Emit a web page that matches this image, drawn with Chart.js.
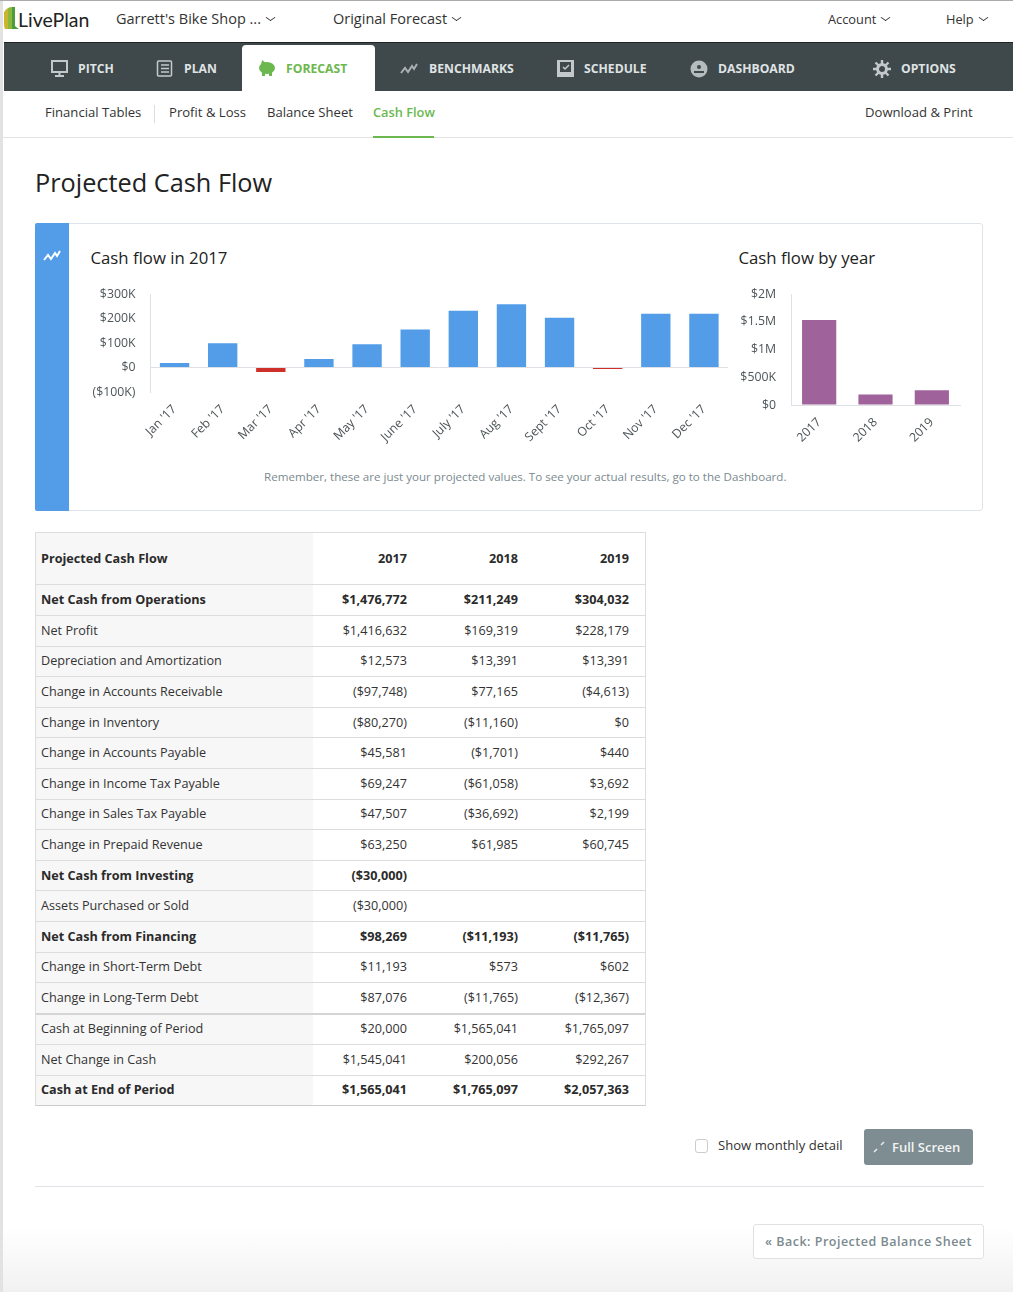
<!DOCTYPE html>
<html>
<head>
<meta charset="utf-8">
<title>Projected Cash Flow</title>
<script src="https://cdn.jsdelivr.net/npm/chart.js@4/dist/chart.umd.min.js"></script>
<style>
html, body { margin: 0; padding: 0; }
body { width: 1013px; height: 1292px; position: relative; overflow: hidden; background: #fff; font-family: "Open Sans", sans-serif; color: #333; -webkit-font-smoothing: antialiased; }
.t { position: absolute; white-space: nowrap; line-height: 20px; }
.box { position: absolute; box-sizing: border-box; }
.nav { color: #dfe3e4; font-size: 12.2px; font-weight: 700; top: 58.5px; }
.sub { color: #333; font-size: 13.1px; top: 102px; }
.chev { display: inline-block; width: 6px; height: 6px; border-right: 1.4px solid #333; border-bottom: 1.4px solid #333; transform: scaleY(.7) rotate(45deg); margin: 0 0 3px 6px; }
svg { position: absolute; }
canvas { position: absolute; }
#table { position: absolute; left: 35px; top: 532px; width: 611px; border: 1px solid #ddd; border-bottom-color: #ccc; box-sizing: border-box; font-size: 12.65px; background: linear-gradient(to right, #f7f7f7 277px, #fff 277px); }
.row { position: relative; height: 30.6px; box-sizing: border-box; border-top: 1px solid #ddd; }
.row.head { height: 51.4px; border-top: 0; }
.row.gap { height: 31.3px; border-top: 2px solid #d5d5d5; }
.row span { position: absolute; top: 50%; margin-top: -1px; transform: translateY(-50%); white-space: nowrap; }
.row .lab { left: 5px; }
.row .c0, .row .c1, .row .c2 { text-align: right; width: 110px; }
.row .c0 { left: 261px; } .row .c1 { left: 372px; } .row .c2 { left: 483px; }
.row.b { font-weight: 700; color: #2b2b2b; }
</style>
</head>
<body>
<div class="box" style="left:0;top:1200px;width:1013px;height:92px;background:linear-gradient(to bottom,#fff 30%,#f1f1f1)"></div>
<div class="box" style="left:0;top:0;width:3px;height:1292px;background:#e2e2e2"></div>
<div class="box" style="left:0;top:0;width:1013px;height:1px;background:#aaa"></div>

<!-- logo and top bar -->
<svg style="left:4px;top:7px" width="16" height="23" viewBox="0 0 16 23">
  <path d="M0 5 Q2 2 4 1 V22 H1 Q0 20 0 16Z" fill="#c9b52f"/>
  <path d="M4 1 Q6 0 8 0 V22 H4Z" fill="#8ab83a"/>
  <path d="M8 0 H11 V19 Q13 21 15 22 H8Z" fill="#4d9b3a"/>
</svg>
<div class="t" style="left:18px;top:6px;font-size:19.5px;line-height:27px;color:#222;font-family:Lato,sans-serif">LivePlan</div>
<div class="t" style="left:116px;top:9px;font-size:14.5px">Garrett's Bike Shop ...<i class="chev"></i></div>
<div class="t" style="left:333px;top:9px;font-size:14.5px">Original Forecast<i class="chev"></i></div>
<div class="t" style="left:828px;top:9px;font-size:12.8px">Account<i class="chev"></i></div>
<div class="t" style="left:946px;top:9px;font-size:12.8px">Help<i class="chev"></i></div>

<!-- main nav -->
<div class="box" style="left:4px;top:42px;width:1009px;height:49px;background:#3f484b;border-top:1px solid #222"></div>
<div class="box" style="left:242px;top:45px;width:133px;height:46px;background:#fff;border-radius:4px 4px 0 0"></div>
<svg style="left:51px;top:60px" width="18" height="18" fill="none" stroke="#c3c9cb" stroke-width="2"><rect x="1" y="1" width="15" height="11"/><path d="M8.5 12v3M4 16h9"/></svg>
<div class="t nav" style="left:78px">PITCH</div>
<svg style="left:156px;top:60px" width="18" height="18" fill="none" stroke="#c3c9cb" stroke-width="1.5"><rect x="1.5" y="1" width="14" height="15" rx="1"/><path d="M5 5h8M5 8.5h8M5 12h8"/></svg>
<div class="t nav" style="left:184px">PLAN</div>
<svg style="left:258px;top:60px" width="18" height="17"><ellipse cx="9" cy="8" rx="8" ry="6" fill="#6cb84e"/><rect x="4" y="11" width="3" height="5" fill="#6cb84e"/><rect x="11" y="11" width="3" height="5" fill="#6cb84e"/><path d="M3 5 L4 0 L8 3Z" fill="#6cb84e"/></svg>
<div class="t nav" style="left:286px;color:#6cb84e">FORECAST</div>
<svg style="left:400px;top:60px" width="18" height="16" fill="none" stroke="#aab1b3" stroke-width="2"><path d="M1 13 L5 8 L8 12 L12 6 L14 9 L17 4"/></svg>
<div class="t nav" style="left:429px">BENCHMARKS</div>
<svg style="left:556px;top:59px" width="19" height="19"><rect x="1" y="1" width="17" height="17" fill="#c3c9cb"/><rect x="4" y="3" width="11" height="10" fill="#3f484b"/><path d="M7 8l2 2 4-4" fill="none" stroke="#c3c9cb" stroke-width="1.5"/></svg>
<div class="t nav" style="left:584px">SCHEDULE</div>
<svg style="left:690px;top:60px" width="18" height="18"><circle cx="9" cy="9" r="8.5" fill="#b5bcbe"/><path d="M4 12h10" stroke="#3f484b" stroke-width="2"/><circle cx="9" cy="7" r="2" fill="#3f484b"/></svg>
<div class="t nav" style="left:718px">DASHBOARD</div>
<svg style="left:873px;top:60px" width="18" height="18" fill="none" stroke="#c3c9cb"><circle cx="9" cy="9" r="4.5" stroke-width="3"/><path d="M9 0v4M9 14v4M0 9h4M14 9h4M2.5 2.5l3 3M12.5 12.5l3 3M15.5 2.5l-3 3M5.5 12.5l-3 3" stroke-width="2.4"/></svg>
<div class="t nav" style="left:901px">OPTIONS</div>

<!-- sub nav -->
<div class="t sub" style="left:45px">Financial Tables</div>
<div class="box" style="left:154px;top:105px;width:1px;height:18px;background:#ddd"></div>
<div class="t sub" style="left:169px">Profit &amp; Loss</div>
<div class="t sub" style="left:267px">Balance Sheet</div>
<div class="t sub" style="left:373px;color:#6cb84e;font-weight:600;font-size:12.8px">Cash Flow</div>
<div class="t sub" style="left:865px">Download &amp; Print</div>
<div class="box" style="left:3px;top:137px;width:1010px;height:1px;background:#e3e3e3"></div>
<div class="box" style="left:373px;top:136px;width:61px;height:2px;background:#6cb84e"></div>

<div class="t" style="left:35px;top:165px;font-size:25.3px;line-height:34px;color:#222">Projected Cash Flow</div>

<!-- chart card -->
<div class="box" style="left:35px;top:223px;width:948px;height:288px;border:1px solid #dfe4ea;border-radius:3px"></div>
<div class="box" style="left:35px;top:223px;width:34px;height:288px;background:#529ce8;border-radius:2px 0 0 2px"></div>
<svg style="left:43px;top:249px" width="18" height="13" fill="none" stroke="#fff" stroke-width="2"><path d="M1 11 L5 6 L8 10 L12 4 L14 7 L17 2"/></svg>
<div class="t" style="left:90.5px;top:246px;font-size:16.75px;line-height:24px;color:#222">Cash flow in 2017</div>
<div class="t" style="left:738.5px;top:246px;font-size:16.75px;line-height:24px;color:#222">Cash flow by year</div>
<canvas id="monthChart" width="662" height="175" style="left:70px;top:284px"></canvas>
<canvas id="yearChart" width="250" height="175" style="left:730px;top:284px"></canvas>
<div class="t" style="left:264px;top:467px;font-size:11.6px;color:#7b8a8f">Remember, these are just your projected values. To see your actual results, go to the Dashboard.</div>

<div id="table"></div>

<!-- footer controls -->
<div class="box" style="left:695px;top:1139px;width:13px;height:14px;border:1px solid #ccc;border-radius:3px"></div>
<div class="t" style="left:718px;top:1135px;font-size:13.1px">Show monthly detail</div>
<div class="box" style="left:864px;top:1129px;width:109px;height:36px;background:#7d8d91;border-radius:3px"></div>
<svg style="left:873px;top:1141px" width="12" height="12" fill="none" stroke="#e8ecec" stroke-width="1.5"><path d="M1 11l3-3M8 4l3-3"/></svg>
<div class="t" style="left:892px;top:1136.5px;font-size:13px;font-weight:600;color:#f2f4f4">Full Screen</div>
<div class="box" style="left:35px;top:1186px;width:949px;height:1px;background:#e0e3e8"></div>
<div class="box" style="left:753px;top:1224px;width:231px;height:35px;background:#fff;border:1px solid #dfe1e3;border-radius:3px"></div>
<div class="t" style="left:765px;top:1231.5px;font-size:12.5px;font-weight:600;color:#7b8a8f;letter-spacing:.5px">« Back: Projected Balance Sheet</div>

<script>
// chart values
const months = ["Jan '17", "Feb '17", "Mar '17", "Apr '17", "May '17", "June '17", "July '17", "Aug '17", "Sept '17", "Oct '17", "Nov '17", "Dec '17"];
const monthlyCash = [18000, 99000, -18000, 35000, 95000, 155000, 232000, 258000, 203000, -6000, 219000, 219000];
const years = ['2017', '2018', '2019'];
const yearlyCash = [1530000, 190000, 265000];
const monthTicks = ['($100K)', '$0', '$100K', '$200K', '$300K'];
const yearTicks = ['$0', '$500K', '$1M', '$1.5M', '$2M'];

// table values
const tableYears = ['2017', '2018', '2019'];
const rowLabels = ['Net Cash from Operations', 'Net Profit', 'Depreciation and Amortization', 'Change in Accounts Receivable', 'Change in Inventory', 'Change in Accounts Payable', 'Change in Income Tax Payable', 'Change in Sales Tax Payable', 'Change in Prepaid Revenue', 'Net Cash from Investing', 'Assets Purchased or Sold', 'Net Cash from Financing', 'Change in Short-Term Debt', 'Change in Long-Term Debt', 'Cash at Beginning of Period', 'Net Change in Cash', 'Cash at End of Period'];
const col2017 = ['$1,476,772', '$1,416,632', '$12,573', '($97,748)', '($80,270)', '$45,581', '$69,247', '$47,507', '$63,250', '($30,000)', '($30,000)', '$98,269', '$11,193', '$87,076', '$20,000', '$1,545,041', '$1,565,041'];
const col2018 = ['$211,249', '$169,319', '$13,391', '$77,165', '($11,160)', '($1,701)', '($61,058)', '($36,692)', '$61,985', '', '', '($11,193)', '$573', '($11,765)', '$1,565,041', '$200,056', '$1,765,097'];
const col2019 = ['$304,032', '$228,179', '$13,391', '($4,613)', '$0', '$440', '$3,692', '$2,199', '$60,745', '', '', '($11,765)', '$602', '($12,367)', '$1,765,097', '$292,267', '$2,057,363'];
const boldRows = [0, 9, 11, 16];
const gapRow = 14;

const table = document.getElementById('table');
function addRow(cls, label, values) {
    const row = document.createElement('div');
    row.className = 'row ' + cls;
    const lab = document.createElement('span');
    lab.className = 'lab';
    lab.textContent = label;
    row.appendChild(lab);
    values.forEach((v, i) => {
        const s = document.createElement('span');
        s.className = 'c' + i;
        s.textContent = v;
        row.appendChild(s);
    });
    table.appendChild(row);
}
addRow('head b', 'Projected Cash Flow', tableYears);
rowLabels.forEach((label, i) => {
    let cls = boldRows.includes(i) ? 'b' : '';
    if (i === gapRow) cls += ' gap';
    addRow(cls, label, [col2017[i], col2018[i], col2019[i]]);
});

const axisColor = '#dde1e6';
const font = { family: '"Open Sans", sans-serif', size: 12.3 };
const tickColor = '#4d5558';

function barChart(id, labels, data, colors, yMin, yMax, step, yLabels, leftW, rightPad, bottomH, pct, zeroOnly) {
    return new Chart(document.getElementById(id), {
        type: 'bar',
        data: {
            labels: labels,
            datasets: [{ data: data, backgroundColor: colors, barPercentage: pct, categoryPercentage: 1 }]
        },
        options: {
            responsive: false,
            animation: false,
            layout: { padding: { top: 10, right: rightPad } },
            plugins: { legend: { display: false }, tooltip: { enabled: false } },
            scales: {
                x: {
                    grid: { display: false },
                    border: { display: !zeroOnly, color: axisColor },
                    ticks: { color: tickColor, font: font, minRotation: 45, maxRotation: 45, autoSkip: false, padding: 2 },
                    afterFit: (s) => { s.height = bottomH; s.paddingLeft = 0; s.paddingRight = 0; }
                },
                y: {
                    min: yMin,
                    max: yMax,
                    grid: {
                        drawTicks: false,
                        color: (c) => (zeroOnly && c.tick.value === 0 ? axisColor : 'transparent')
                    },
                    border: { color: axisColor },
                    ticks: {
                        stepSize: step,
                        color: tickColor,
                        font: font,
                        padding: 15,
                        callback: (v, i) => yLabels[i]
                    },
                    afterFit: (s) => { s.width = leftW; s.paddingTop = 0; s.paddingBottom = 0; }
                }
            }
        }
    });
}

barChart('monthChart', months, monthlyCash, (c) => (c.raw < 0 ? '#d0302a' : '#529ce8'), -100000, 300000, 100000, monthTicks, 80.5, 4, 67, 0.61, true);
barChart('yearChart', years, yearlyCash, '#a0629b', 0, 2000000, 500000, yearTicks, 61, 20, 54, 0.607, false);
</script>
</body>
</html>
